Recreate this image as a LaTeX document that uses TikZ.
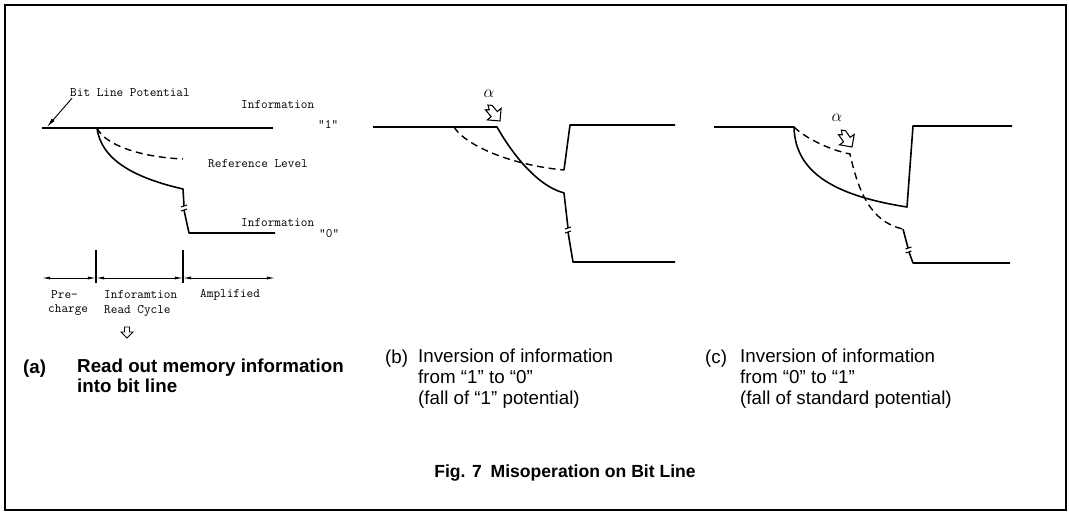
\documentclass[tikz,border=0pt]{standalone}
\usepackage{fontspec}
\newfontfamily\capfont{Liberation Sans}
\usetikzlibrary{arrows.meta}

\begin{document}
\begin{tikzpicture}[
      x=0.03cm, y=-0.03cm,
      trace/.style={line width=1.35pt, line join=round},
      refline/.style={line width=1.2pt, dash pattern=on 6pt off 4pt},
      marker/.style={line width=0.9pt},
      span/.style={line width=0.7pt, {Latex[length=7pt,width=2.6pt]}-{Latex[length=7pt,width=2.6pt]}},
      plotlabel/.style={font=\ttfamily\fontsize{11}{13}\selectfont, inner sep=0pt, anchor=west},
      caption/.style={font=\capfont\fontsize{16}{17.5}\selectfont, align=left, inner sep=0pt, anchor=base west},
      boldcaption/.style={caption, font=\capfont\bfseries\fontsize{16}{16.5}\selectfont},
      downarrow/.pic={\draw[line width=0.8pt, line join=miter] (0,0) -- (-6,-6) -- (-2.5,-6) -- (-2.5,-11) -- (2.5,-11) -- (2.5,-6) -- (6,-6) -- cycle;},
      hitarrow/.pic={\draw[line width=0.9pt, line join=miter] (0,0) -- (-9,-9) -- (-4,-9) -- (-4,-18) -- (-1,-15.5) -- (1,-20) -- (4,-17) -- (4,-9) -- (9,-9) -- cycle;},
      brkmark/.pic={\draw[line width=0.9pt] (-3,-1) -- (3,-3) (-3,3) -- (3,1);}
    ]
    \useasboundingbox (0,0) rectangle (1069,513);
    \draw[line width=1.5pt] (5,5) rectangle (1066,510);

    % (a) read out of memory information
    \draw[trace] (42,128) -- (273,128);
    \draw[trace] (97,128) .. controls (101,160) and (135,178) .. (183,189)
      -- (184,206);
    \draw[trace] (184,210) -- (189,233) -- (275,233);
    \pic at (184,208) {brkmark};
    \draw[refline] (97,128) .. controls (105,145) and (140,157) .. (183,159);
    \node[plotlabel] (bitline) at (70,93) {Bit Line Potential};
    \draw[line width=0.8pt, -{Latex[length=8pt,width=3.2pt]}] (bitline.south west) ++(2,1) -- (47,127);
    \node[plotlabel] (info1) at (241,105) {Information};
    \node[plotlabel] (one) at (318,124) {“1”};
    \node[plotlabel] (reflevel) at (208,164) {Reference Level};
    \node[plotlabel] (info0) at (241,223) {Information};
    \node[plotlabel] (zero) at (319,234) {“0”};

    \draw[marker] (96,250) -- (96,283);
    \draw[marker] (183,250) -- (183,283);
    \draw[span] (42,278) -- (96,278);
    \draw[span] (96,278) -- (183,278);
    \draw[span] (183,278) -- (275,278);
    \node[plotlabel] (pre) at (51,295) {Pre-};
    \node[plotlabel] (charge) at (48,310) {charge};
    \node[plotlabel] (inforead) at (104,295) {Inforamtion};
    \node[plotlabel] (readcycle) at (104,311) {Read Cycle};
    \node[plotlabel] (amplified) at (200,295) {Amplified};
    \pic at (127,338) {downarrow};

    \node[boldcaption] (tagA) at (23,373) {(a)};
    \node[boldcaption] (capA) at (77,392)
      {Read out memory information\\into bit line};

    % (b) inversion from 1 to 0
    \draw[trace] (373,127) -- (497,127)
      .. controls (510,150) and (535,185) .. (564,193) -- (568,228);
    \draw[trace] (568,232) -- (573,262) -- (675,262);
    \pic at (568,230) {brkmark};
    \draw[refline] (454,127) .. controls (465,145) and (510,165) .. (564,170);
    \draw[trace] (564,170) -- (570,125) -- (675,125);
    \node[font=\fontsize{14}{14}\selectfont, inner sep=0pt] (alphaB) at (489,94) {$\alpha$};
    \pic[rotate=40] at (500,121) {hitarrow};
    \node[caption] (tagB) at (385,363) {(b)};
    \node[caption] (capB) at (418,404)
      {Inversion of information\\from “1” to “0”\\(fall of “1” potential)};

    % (c) inversion from 0 to 1
    \draw[trace] (714,127) -- (794,127)
      .. controls (795,170) and (830,195) .. (907,207) -- (913,126) -- (1012,126);
    \draw[refline] (794,127) .. controls (805,138) and (830,150) .. (850,154)
      .. controls (858,190) and (870,222) .. (903,229);
    \draw[trace] (903,229) -- (908,248);
    \draw[trace] (909,252) -- (913,263) -- (1010,263);
    \pic at (908.5,250) {brkmark};
    \node[font=\fontsize{14}{14}\selectfont, inner sep=0pt] (alphaC) at (837,118) {$\alpha$};
    \pic[rotate=35] at (852,147) {hitarrow};
    \node[caption] (tagC) at (705,363) {(c)};
    \node[caption] (capC) at (740,404)
      {Inversion of information\\from “0” to “1”\\(fall of standard potential)};

    \node[font=\capfont\bfseries\fontsize{15}{17}\selectfont, inner sep=0pt] (figcap) at (565,473)
      {Fig. 7\enspace Misoperation on Bit Line};
  \end{tikzpicture}
\end{document}
